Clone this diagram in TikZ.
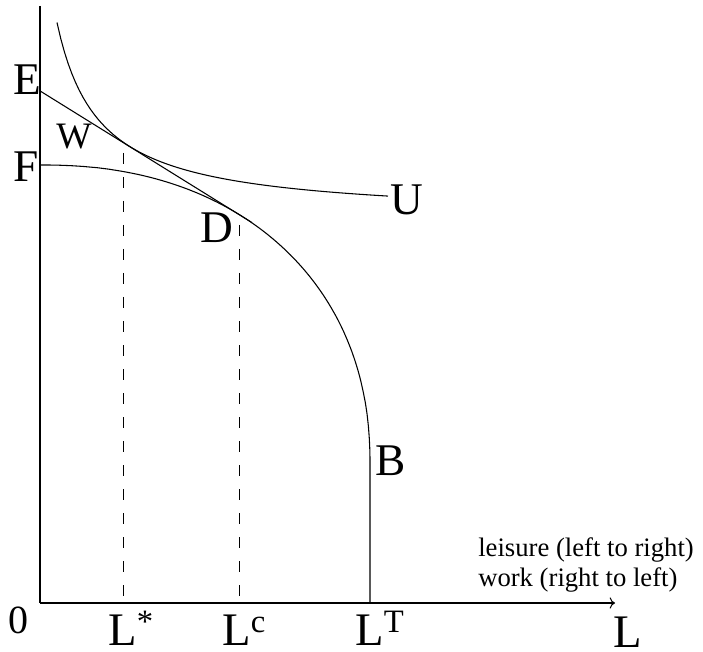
\documentclass[tikz,border=0pt]{standalone}
\usepackage{fontspec}
\setmainfont{Liberation Serif}
\usetikzlibrary{arrows.meta}

\begin{document}
\begin{tikzpicture}[
    x=0.75pt,
    y=-0.75pt,
    axis/.style={line width=0.8pt},
    curve/.style={line width=0.8pt},
    guide/.style={line width=0.7pt, dash pattern=on 8pt off 10pt},
    lbl/.style={anchor=base west, inner sep=0pt, text depth=0pt, font=\fontsize{34}{40}\selectfont},
    lblL/.style={lbl, font=\fontsize{35}{40}\selectfont},
    note/.style={anchor=base west, inner sep=0pt, text depth=0pt, font=\fontsize{20}{24}\selectfont}
]
\useasboundingbox (0,0) rectangle (703,652);

% ============================================================
% AXES
% ============================================================
\coordinate (o) at (40,603);
\coordinate (ytop) at (40,6);
\coordinate (xend) at (615,603);
\draw[axis] (ytop) -- (o);
\draw[axis, -{To[length=4pt]}] (o) -- (xend);

% ============================================================
% FRONTIER F--D--B AND INDIFFERENCE CURVE U
% ============================================================
\coordinate (lt) at (370,603);
\draw[curve] plot[domain=89.99:0.01, samples=90, variable=\t]
    ({41+329*pow(abs(cos(\t)),0.909)}, {465-300*pow(abs(sin(\t)),0.909)}) -- (lt);

\draw[curve] plot[domain=57:388, samples=90, variable=\x] (\x, {218.1-8213/(\x-15)});

% budget line E--D
\coordinate (e) at (40,90.9);
\coordinate (eend) at (252,222.6);
\draw[curve] (e) -- (eend);

% ============================================================
% DASHED GUIDES
% ============================================================
\coordinate (lstartop) at (123,153);
\coordinate (lstarbot) at (123,603);
\coordinate (lctop) at (239,225);
\coordinate (lcbot) at (239,603);
\draw[guide] (lstartop) -- (lstarbot);
\draw[guide] (lctop) -- (lcbot);

% ============================================================
% LABELS
% ============================================================
\node[lbl] (E) at (13,95) {E};
\node[lbl] (F) at (13,182) {F};
\node[lbl, font=\fontsize{28}{32}\selectfont] (W) at (56,149) {W};
\node[lbl] (U) at (390,215) {U};
\node[lbl] (D) at (200,243) {D};
\node[lbl] (B) at (375,475) {B};
\node[lbl, font=\fontsize{30}{34}\selectfont] (zero) at (8,633) {0};
\node[lblL] (Lstar) at (108,645) {L\textsuperscript{*}};
\node[lblL] (Lc) at (222,645) {L\textsuperscript{c}};
\node[lblL] (LT) at (355,645) {L\textsuperscript{T}};
\node[lblL] (Lax) at (613,647) {L};
\node[note] (leisure) at (478,556) {leisure (left to right)};
\node[note] (work) at (478,586) {work (right to left)};

\end{tikzpicture}
\end{document}
